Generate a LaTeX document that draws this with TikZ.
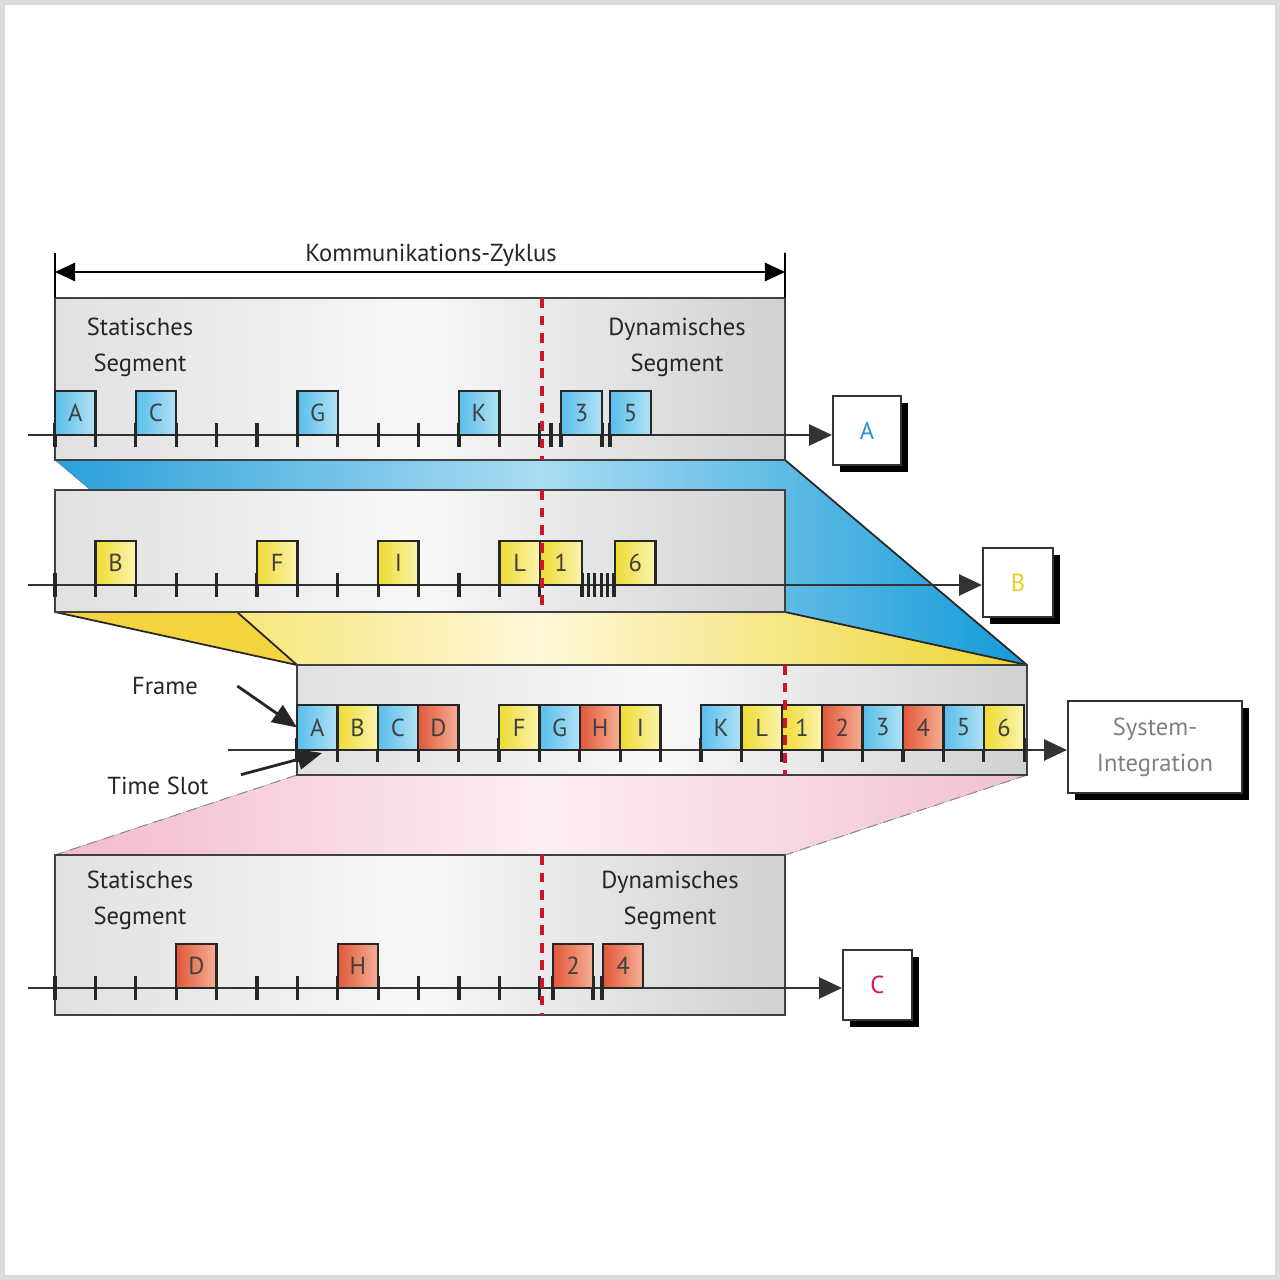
\documentclass[tikz,border=0pt]{standalone}
\usepackage{fontspec}
\setmainfont{PT Sans}
\definecolor{frblue}{HTML}{58BEEA}
\definecolor{frbluelt}{HTML}{B2E2F6}
\definecolor{fryel}{HTML}{EEDB30}
\definecolor{fryellt}{HTML}{FBF4B0}
\definecolor{frred}{HTML}{E1583A}
\definecolor{frredlt}{HTML}{F6B095}
\definecolor{cyclered}{HTML}{D0142C}
\definecolor{nodeA}{HTML}{2596D1}
\definecolor{nodeB}{HTML}{E6CF1E}
\definecolor{nodeC}{HTML}{D4145A}
\definecolor{fanblueL}{HTML}{2AA0DA}
\definecolor{fanblueM}{HTML}{AADCF2}
\definecolor{fanblueR}{HTML}{139AD8}
\definecolor{fanyelL}{HTML}{F2DC45}
\definecolor{fanyelM}{HTML}{FDF7D8}
\definecolor{fanyelR}{HTML}{EED530}
\definecolor{fanpinkL}{HTML}{F3B9CD}
\definecolor{fanpinkM}{HTML}{FCEEF3}
\definecolor{fanpinkR}{HTML}{F2C0D2}
\usetikzlibrary{arrows.meta,shadows,backgrounds,calc}

\tikzset{
  lbl/.style={font=\fontsize{7}{10.2}\selectfont, text=black!85, align=center},
  panel/.style={draw=black!75, line width=0.6pt, left color=black!12, right color=black!18,
    middle color=black!3, minimum width=7.3cm, anchor=north west, inner sep=0, outer sep=0},
  frm/.style={draw=black!85, line width=0.65pt, minimum width=0.404cm, minimum height=0.44cm,
    anchor=south west, inner sep=0, outer sep=0, font=\fontsize{7}{8}\selectfont, text=black!75},
  fb/.style={frm, left color=frblue, right color=frbluelt},
  fy/.style={frm, left color=fryel, right color=fryellt},
  fr/.style={frm, left color=frred, right color=frredlt},
  tick/.style={line width=0.9pt, black!85},
  timeline/.style={line width=0.6pt, black!80, -{Triangle[length=6.5pt,width=6pt]}},
  cycleline/.style={cyclered, line width=1.3pt, dash pattern=on 2.8pt off 2.2pt},
  station/.style={draw=black!80, fill=white, line width=0.6pt,
    drop shadow={shadow xshift=0.07cm, shadow yshift=-0.07cm, fill=black, opacity=1},
    font=\fontsize{7}{10.2}\selectfont, align=center, inner sep=0},
  pointer/.style={line width=0.8pt, black!85, -{Triangle[length=7pt,width=5.8pt]}},
  fanedge/.style={line width=0.5pt, black!85},
}

\begin{document}
\begin{tikzpicture}[x=1cm, y=-1cm]
  \useasboundingbox (0,0) rectangle (12.8,12.8);
  \draw[black!14, line width=0.045cm] (0.025,0.025) rectangle (12.775,12.775);

  % the four segments (A, B, merged, C)
  \node[panel, minimum height=1.62cm] (pA) at (0.55,2.98) {};
  \node[panel, minimum height=1.22cm] (pB) at (0.55,4.90) {};
  \node[panel, minimum height=1.10cm] (pM) at (2.97,6.65) {};
  \node[panel, minimum height=1.60cm] (pC) at (0.55,8.55) {};

  % projections between the segments
  \begin{scope}[on background layer]
    \fill[left color=fanblueL, right color=fanblueR, middle color=fanblueM]
      (pA.south west) -- (pA.south east) -- (pM.north east) -- (pM.north west) -- cycle;
    \fill[left color=fanyelL, right color=fanyelR, middle color=fanyelM]
      (pB.south west) -- (pB.south east) -- (pM.north east) -- (pM.north west) -- cycle;
    \fill[fanyelL!90!orange] (pB.south west) -- ($(pB.south west)+(1.82,0)$) -- (pM.north west) -- cycle;
    \draw[fanedge] (pB.south west) -- (pM.north west);
    \draw[fanedge] ($(pB.south west)+(1.82,0)$) -- (pM.north west);
    \draw[fanedge] (pA.south east) -- (pM.north east);
    \draw[fanedge] (pB.south east) -- (pM.north east);
    \fill[left color=fanpinkL, right color=fanpinkR, middle color=fanpinkM]
      (pM.south west) -- (pM.south east) -- (pC.north east) -- (pC.north west) -- cycle;
    \draw[black!45, line width=0.3pt, densely dashed] (pM.south west) -- (pC.north west);
    \draw[black!45, line width=0.3pt, densely dashed] (pM.south east) -- (pC.north east);
  \end{scope}

  % cycle dimension
  \coordinate (cycL) at (0.55,2.72);
  \coordinate (cycR) at (7.85,2.72);
  \draw[line width=0.5pt] (0.55,2.53) -- (pA.north west);
  \draw[line width=0.5pt] (7.85,2.53) -- (pA.north east);
  \draw[line width=0.5pt, {Triangle[length=5.7pt,width=5.2pt]}-{Triangle[length=5.7pt,width=5.2pt]}] (cycL) -- (cycR);
  \node[lbl] (cyc) at (4.31,2.55) {Kommunikations-Zyklus};

  \node[lbl] (statA) at (1.40,3.47) {Statisches\\Segment};
  \node[lbl] (dynA) at (6.77,3.47) {Dynamisches\\Segment};
  \node[lbl] (statC) at (1.40,9.00) {Statisches\\Segment};
  \node[lbl] (dynC) at (6.70,9.00) {Dynamisches\\Segment};

  % stations
  \node[station, minimum width=0.68cm, minimum height=0.69cm, text=nodeA] (sA) at (8.67,4.305) {A};
  \node[station, minimum width=0.70cm, minimum height=0.69cm, text=nodeB] (sB) at (10.18,5.825) {B};
  \node[station, minimum width=0.69cm, minimum height=0.70cm, text=nodeC] (sC) at (8.775,9.85) {C};
  \node[station, minimum width=1.74cm, minimum height=0.92cm, text=black!50] (sI) at (11.55,7.47) {System-\\Integration};

  % time lines
  \coordinate (tA) at (0.28,4.35);
  \coordinate (tB) at (0.28,5.85);
  \coordinate (tM) at (2.28,7.50);
  \coordinate (tC) at (0.28,9.88);
  \draw[timeline] (tA) -- (tA -| sA.west);
  \draw[timeline] (tB) -- (tB -| sB.west);
  \draw[timeline] (tM) -- (tM -| sI.west);
  \draw[timeline] (tC) -- (tC -| sC.west);

  % channel A
  \foreach \i in {0,...,12}
    \draw[tick] ({0.55+0.404*\i},4.23) -- ++(0,0.24);
  \foreach \x in {5.51,5.61,6.02,6.10}
    \draw[tick] (\x,4.23) -- ++(0,0.24);
  \foreach \i/\t in {0/A,2/C,6/G,10/K}
    \node[fb] (a\t) at ({0.55+0.404*\i},4.35) {\t};
  \node[fb, minimum width=0.41cm] (a3) at (5.61,4.35) {3};
  \node[fb, minimum width=0.41cm] (a5) at (6.10,4.35) {5};

  % channel B
  \foreach \i in {0,...,12}
    \draw[tick] ({0.55+0.404*\i},5.73) -- ++(0,0.24);
  \foreach \k in {0,...,5}
    \draw[tick] ({5.82+0.064*\k},5.73) -- ++(0,0.24);
  \foreach \i/\t in {1/B,5/F,8/I,11/L}
    \node[fy] (b\t) at ({0.55+0.404*\i},5.85) {\t};
  \node[fy, minimum width=0.42cm] (b1) at (5.40,5.85) {1};
  \node[fy] (b6) at (6.15,5.85) {6};

  % merged channel
  \foreach \k in {0,...,18}
    \draw[tick] ({2.97+0.404*\k},7.38) -- ++(0,0.24);
  \foreach \k/\t/\s in {0/A/fb,1/B/fy,2/C/fb,3/D/fr,5/F/fy,6/G/fb,7/H/fr,8/I/fy,10/K/fb,
                        11/L/fy,12/1/fy,13/2/fr,14/3/fb,15/4/fr,16/5/fb,17/6/fy}
    \node[\s, minimum height=0.45cm] (m\t) at ({2.97+0.404*\k},7.50) {\t};

  % channel C
  \foreach \i in {0,...,12}
    \draw[tick] ({0.55+0.404*\i},9.76) -- ++(0,0.24);
  \foreach \x in {5.53,5.93,6.02}
    \draw[tick] (\x,9.76) -- ++(0,0.24);
  \foreach \i/\t in {3/D,7/H}
    \node[fr] (c\t) at ({0.55+0.404*\i},9.88) {\t};
  \node[fr, minimum width=0.40cm] (c2) at (5.53,9.88) {2};
  \node[fr, minimum width=0.40cm] (c4) at (6.03,9.88) {4};

  % static / dynamic border
  \draw[cycleline] (5.42,2.98) -- (5.42,4.60);
  \draw[cycleline] (5.42,4.90) -- (5.42,6.05);
  \draw[cycleline] (7.85,6.65) -- (7.85,7.75);
  \draw[cycleline] (5.42,8.55) -- (5.42,10.15);

  % annotations
  \node[lbl] (frmlbl) at (1.65,6.86) {Frame};
  \node[lbl] (slotlbl) at (1.58,7.86) {Time Slot};
  \coordinate (slot) at (3.22,7.53);
  \draw[pointer] ([xshift=0.27cm]frmlbl.east) -- (mA.west);
  \draw[pointer] ([xshift=0.2cm,yshift=-0.1cm]slotlbl.north east) -- (slot);
\end{tikzpicture}
\end{document}
